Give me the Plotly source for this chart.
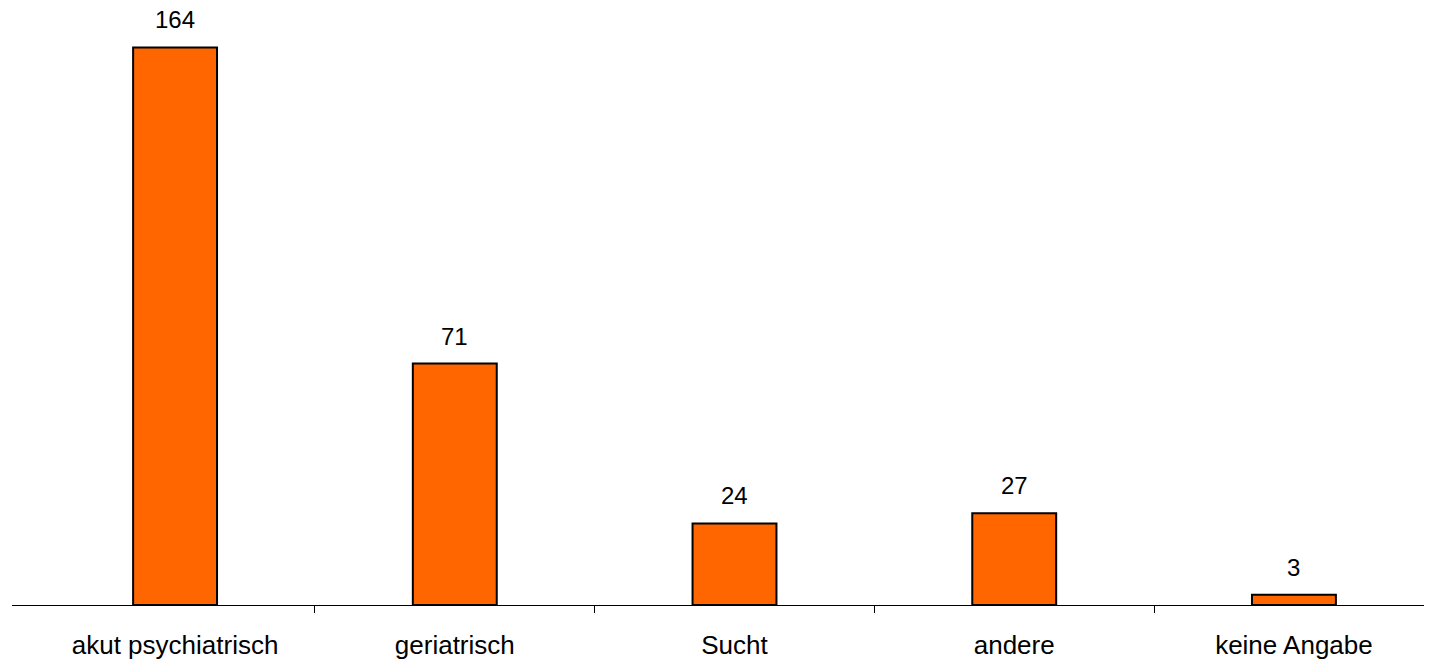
import plotly.graph_objects as go

categories = ["akut psychiatrisch", "geriatrisch", "Sucht", "andere", "keine Angabe"]
values = [164, 71, 24, 27, 3]
positions = list(range(len(categories)))
boundaries = [p + 0.5 for p in positions[:-1]]

fig = go.Figure()
fig.add_trace(go.Bar(
    x=positions, y=values, width=0.30,
    marker=dict(color="#FF6600", line=dict(color="#000000", width=2)),
    hoverinfo="x+y",
))

for p, v in zip(positions, values):
    fig.add_annotation(x=p, y=v, text=str(v), showarrow=False,
                       yanchor="bottom", yshift=12,
                       font=dict(family="Liberation Sans, Arial, sans-serif", size=24, color="#000"))

fig.update_layout(
    width=1430, height=664,
    margin=dict(l=12, r=6, t=27, b=59, autoexpand=False),
    paper_bgcolor="white", plot_bgcolor="white",
    showlegend=False,
    font=dict(family="Liberation Sans, Arial, sans-serif", color="#000"),
    xaxis=dict(
        range=[-0.583, 4.465],
        tickvals=positions, ticktext=categories,
        ticks="", showline=True, linecolor="#000", linewidth=1,
        showgrid=False, zeroline=False, automargin=False,
        tickfont=dict(size=26, color="#000"),
        ticklabelstandoff=17,
        minor=dict(tickvals=boundaries, ticks="outside", ticklen=7,
                   tickcolor="#000", tickwidth=1, showgrid=False),
    ),
    yaxis=dict(range=[0, 170], visible=False, showgrid=False, zeroline=False,
               automargin=False),
)

fig.write_html("out.html")
